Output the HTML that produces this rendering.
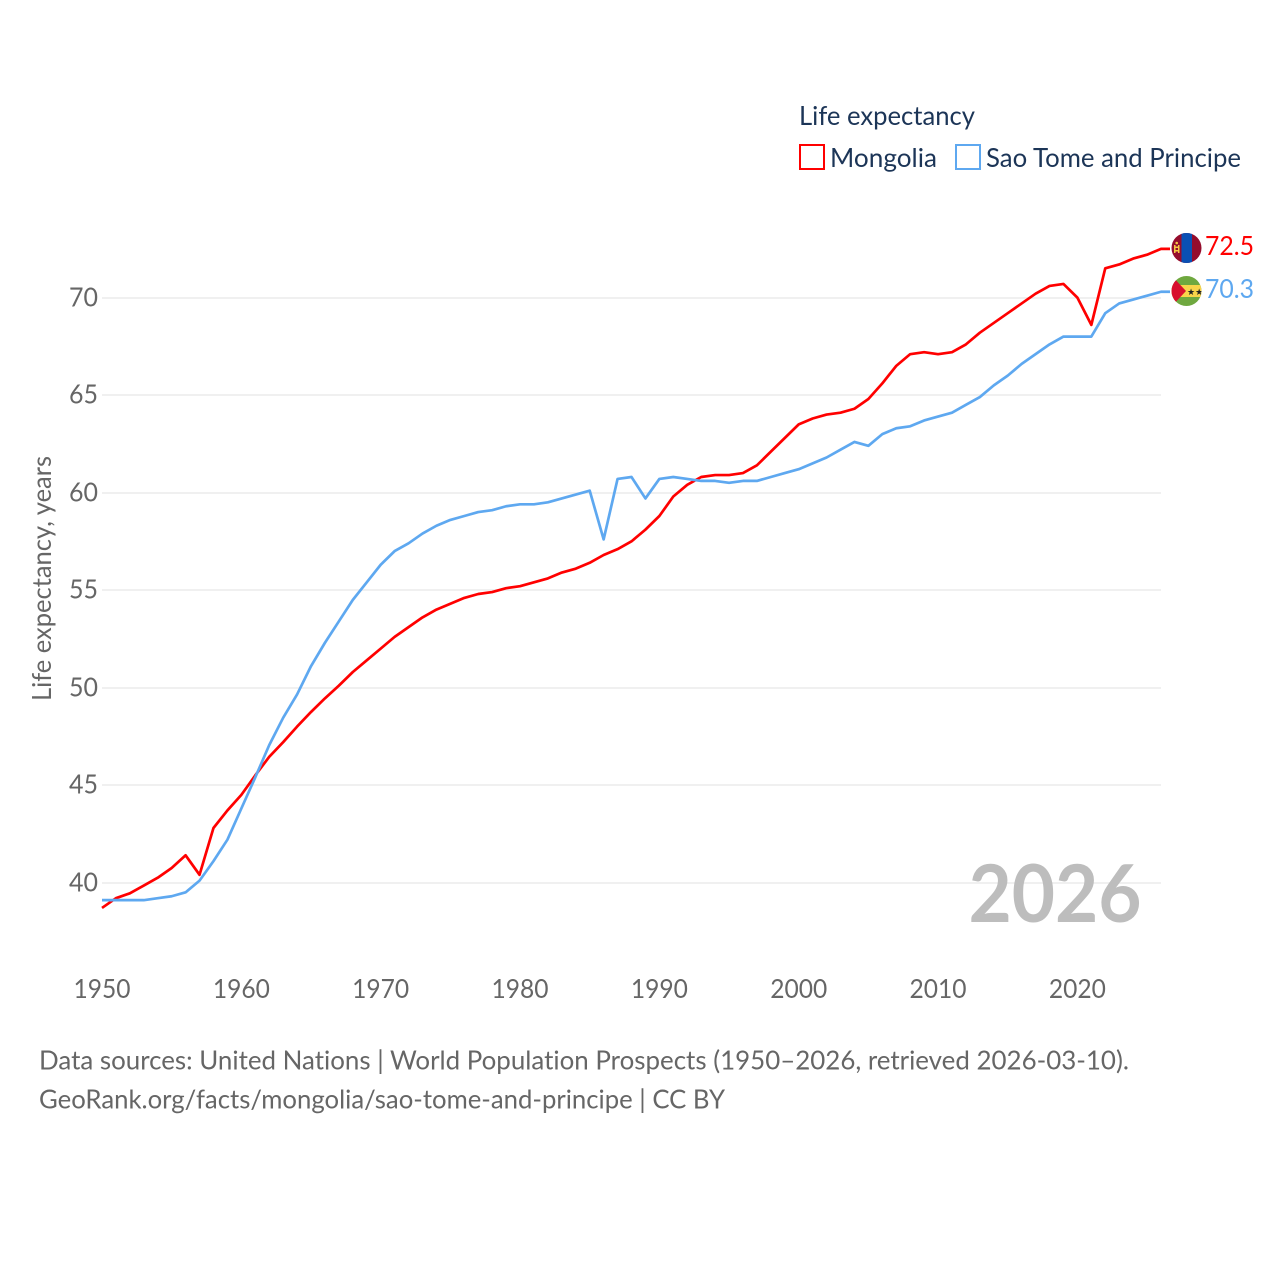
<!DOCTYPE html>
<html lang="en">
<head>
<meta charset="utf-8">
<title>Life expectancy: Mongolia vs Sao Tome and Principe</title>
<style>
html,body{margin:0;padding:0;background:#fff;}
svg{display:block;font-family:"Lato","Carlito","Liberation Sans",sans-serif;font-variant-ligatures:none;}
</style>
</head>
<body>
<svg id="chart" xmlns="http://www.w3.org/2000/svg" width="1280" height="1280" viewBox="0 0 1280 1280">
  <defs>
    <clipPath id="clip-flag-a"><circle cx="1186.5" cy="248" r="15"/></clipPath>
    <clipPath id="clip-flag-b"><circle cx="1186.5" cy="291" r="15"/></clipPath>
  </defs>
  <rect width="1280" height="1280" fill="#fff"/>
  <g id="grid"></g>
  <text x="968.5" y="922" font-size="80" font-weight="700" fill="#bdbdbd" textLength="173" lengthAdjust="spacingAndGlyphs">2026</text>
  <g id="ylabels"></g>
  <g id="xlabels"></g>
  <text transform="translate(51,701) rotate(-90)" font-size="26.5" fill="#666" textLength="245" lengthAdjust="spacingAndGlyphs">Life expectancy, years</text>
  <g id="lines"></g>

  <g clip-path="url(#clip-flag-a)">
    <rect x="1171" y="232" width="31" height="32" fill="#950c2c"/>
    <rect x="1181.5" y="232" width="10.5" height="32" fill="#0a50b4"/>
    <rect x="1174" y="245" width="1.5" height="8" fill="#f5c842"/>
    <rect x="1178" y="245" width="1.5" height="8" fill="#f5c842"/>
    <rect x="1175.5" y="246.5" width="2.5" height="1.5" fill="#f5c842"/>
    <rect x="1175.5" y="250" width="2.5" height="1.5" fill="#f5c842"/>
    <circle cx="1176.7" cy="243" r="1.3" fill="#f5c842"/>
  </g>
  <g clip-path="url(#clip-flag-b)">
    <rect x="1171" y="275" width="31" height="32" fill="#6fa83f"/>
    <rect x="1171" y="285" width="31" height="12" fill="#f9d44a"/>
    <polygon points="1171,275 1186,291 1171,307" fill="#d80f2d"/>
    <text x="1187" y="295" font-size="9" fill="#222" font-family="'DejaVu Sans',sans-serif">★★</text>
  </g>
  <g id="endlabels"></g>

  <g>
    <text x="799" y="125" font-size="26.5" fill="#1c3557" textLength="176" lengthAdjust="spacingAndGlyphs">Life expectancy</text>
    <g>
      <rect x="800" y="145" width="24" height="24" fill="#fff" stroke="#ff0000" stroke-width="2"/>
      <text x="830" y="167" font-size="26.5" fill="#1c3557" textLength="107" lengthAdjust="spacingAndGlyphs">Mongolia</text>
    </g>
    <g>
      <rect x="956" y="145" width="24" height="24" fill="#fff" stroke="#5ea8f0" stroke-width="2"/>
      <text x="986" y="167" font-size="26.5" fill="#1c3557" textLength="255" lengthAdjust="spacingAndGlyphs">Sao Tome and Principe</text>
    </g>
  </g>

  <text x="39" y="1069.5" font-size="26.5" fill="#666" textLength="1090" lengthAdjust="spacingAndGlyphs">Data sources: United Nations | World Population Prospects (1950–2026, retrieved 2026-03-10).</text>
  <text x="39" y="1108.5" font-size="26.5" fill="#666" textLength="686" lengthAdjust="spacingAndGlyphs">GeoRank.org/facts/mongolia/sao-tome-and-principe | CC BY</text>
</svg>
<script>
const startYear = 1950;
const yTicks = [40, 45, 50, 55, 60, 65, 70];
const xTicks = [1950, 1960, 1970, 1980, 1990, 2000, 2010, 2020];
const mongolia = [38.7,39.2,39.45,39.85,40.25,40.75,41.4,40.4,42.8,43.7,44.5,45.5,46.45,47.2,48.0,48.75,49.45,50.1,50.8,51.4,52.0,52.6,53.1,53.6,54.0,54.3,54.6,54.8,54.9,55.1,55.2,55.4,55.6,55.9,56.1,56.4,56.8,57.1,57.5,58.1,58.8,59.8,60.4,60.8,60.9,60.9,61.0,61.4,62.1,62.8,63.5,63.8,64.0,64.1,64.3,64.8,65.6,66.5,67.1,67.2,67.1,67.2,67.6,68.2,68.7,69.2,69.7,70.2,70.6,70.7,70.0,68.6,71.5,71.7,72.0,72.2,72.5];
const saoTome = [39.1,39.1,39.1,39.1,39.2,39.3,39.5,40.1,41.1,42.2,43.8,45.4,47.05,48.45,49.65,51.1,52.3,53.4,54.5,55.4,56.3,57.0,57.4,57.9,58.3,58.6,58.8,59.0,59.1,59.3,59.4,59.4,59.5,59.7,59.9,60.1,57.6,60.7,60.8,59.7,60.7,60.8,60.7,60.6,60.6,60.5,60.6,60.6,60.8,61.0,61.2,61.5,61.8,62.2,62.6,62.4,63.0,63.3,63.4,63.7,63.9,64.1,64.5,64.9,65.5,66.0,66.6,67.1,67.6,68.0,68.0,68.0,69.2,69.7,69.9,70.1,70.3];

const NS = 'http://www.w3.org/2000/svg';
const plotLeft = 102, plotRight = 1161, connectorEnd = 1170;
const pxPerYear = (plotRight - plotLeft) / 76;
const pxPerUnit = 19.5;
function xScale(year) { return plotLeft + (year - startYear) * pxPerYear; }
function yScale(v) { return 882.6 - (v - 40) * pxPerUnit; }
function create(parentId, tag, attrs, text) {
  const el = document.createElementNS(NS, tag);
  for (const k in attrs) el.setAttribute(k, attrs[k]);
  if (text !== undefined) el.textContent = text;
  document.getElementById(parentId).appendChild(el);
  return el;
}

yTicks.forEach(function (t) {
  const gy = Math.round(yScale(t));
  const line = create('grid', 'line', {x1: plotLeft, x2: plotRight, y1: gy, y2: gy, stroke: '#f0f0f0', 'stroke-width': 2});
  
  
  const label = create('ylabels', 'text', {x: 98, y: gy + 8.5, 'text-anchor': 'end', 'font-size': 26.5, fill: '#666', textLength: 29, lengthAdjust: 'spacingAndGlyphs'}, String(t));
  
  
});

xTicks.forEach(function (t) {
  const label = create('xlabels', 'text', {x: xScale(t), y: 998, 'text-anchor': 'middle', 'font-size': 26.5, fill: '#666', textLength: 57, lengthAdjust: 'spacingAndGlyphs'}, String(t));
  
  
});

function pathFor(values) {
  const pts = values.map(function (v, i) { return xScale(startYear + i).toFixed(2) + ',' + yScale(v).toFixed(2); });
  pts.push(connectorEnd + ',' + yScale(values[values.length - 1]).toFixed(2));
  return 'M' + pts.join('L');
}

const redLine = create('lines', 'path', {d: pathFor(mongolia), fill: 'none', stroke: '#ff0000', 'stroke-width': 2.7, 'stroke-linejoin': 'round'});


const blueLine = create('lines', 'path', {d: pathFor(saoTome), fill: 'none', stroke: '#5ea8f0', 'stroke-width': 2.7, 'stroke-linejoin': 'round'});



const redValue = create('endlabels', 'text', {x: 1205, y: 255, 'font-size': 26.5, fill: '#ff0000', textLength: 49, lengthAdjust: 'spacingAndGlyphs'}, mongolia[mongolia.length - 1].toFixed(1));


const blueValue = create('endlabels', 'text', {x: 1205, y: 298, 'font-size': 26.5, fill: '#5ea8f0', textLength: 49, lengthAdjust: 'spacingAndGlyphs'}, saoTome[saoTome.length - 1].toFixed(1));


</script>
</body>
</html>
